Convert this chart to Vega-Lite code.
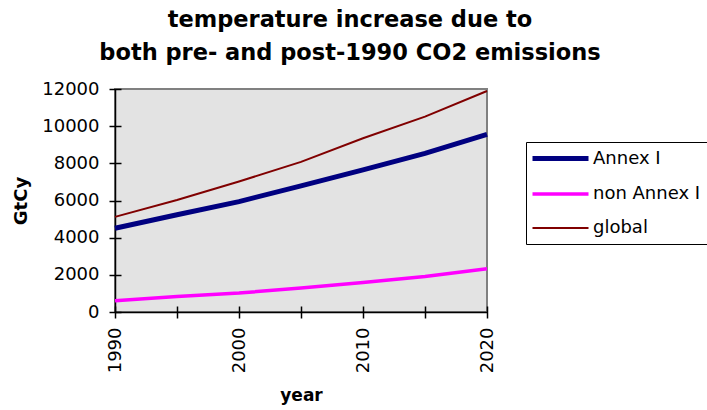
{
  "$schema": "https://vega.github.io/schema/vega-lite/v6.json",
  "width": 372,
  "height": 223,
  "autosize": "none",
  "padding": {"left": 115, "top": 89, "right": 220, "bottom": 98},
  "background": "white",
  "title": {
    "text": ["temperature increase due to", "both pre- and post-1990 CO2 emissions"],
    "font": "DejaVu Sans",
    "fontSize": 22.5,
    "fontWeight": "bold",
    "color": "black",
    "lineHeight": 33,
    "anchor": "middle",
    "frame": "group",
    "dx": 49,
    "offset": 16
  },
  "config": {
    "font": "DejaVu Sans",
    "view": {"fill": "#E3E3E3", "stroke": "#808080", "strokeWidth": 2},
    "axis": {
      "labelFont": "DejaVu Sans",
      "labelFontSize": 18,
      "labelColor": "black",
      "titleFont": "DejaVu Sans",
      "titleFontSize": 17,
      "titleFontWeight": "bold",
      "titleColor": "black",
      "domainColor": "black",
      "domainWidth": 1.5,
      "tickColor": "black",
      "tickWidth": 1.5,
      "grid": false
    },
    "legend": {
      "labelFont": "DejaVu Sans",
      "labelFontSize": 18,
      "labelColor": "black"
    }
  },
  "data": {
    "values": [
      {"year": 1990, "series": "Annex I", "value": 4510},
      {"year": 1995, "series": "Annex I", "value": 5230},
      {"year": 2000, "series": "Annex I", "value": 5940},
      {"year": 2005, "series": "Annex I", "value": 6790},
      {"year": 2010, "series": "Annex I", "value": 7650},
      {"year": 2015, "series": "Annex I", "value": 8540},
      {"year": 2020, "series": "Annex I", "value": 9560},
      {"year": 1990, "series": "non Annex I", "value": 610},
      {"year": 1995, "series": "non Annex I", "value": 840},
      {"year": 2000, "series": "non Annex I", "value": 1020},
      {"year": 2005, "series": "non Annex I", "value": 1290},
      {"year": 2010, "series": "non Annex I", "value": 1590},
      {"year": 2015, "series": "non Annex I", "value": 1910},
      {"year": 2020, "series": "non Annex I", "value": 2330},
      {"year": 1990, "series": "global", "value": 5120},
      {"year": 1995, "series": "global", "value": 6030},
      {"year": 2000, "series": "global", "value": 7020},
      {"year": 2005, "series": "global", "value": 8080},
      {"year": 2010, "series": "global", "value": 9350},
      {"year": 2015, "series": "global", "value": 10510},
      {"year": 2020, "series": "global", "value": 11890}
    ]
  },
  "resolve": {"axis": {"x": "independent", "y": "independent"}},
  "layer": [
    {
      "mark": {"type": "point", "opacity": 0},
      "encoding": {
        "x": {
          "field": "year",
          "type": "quantitative",
          "scale": {"domain": [1990, 2020], "nice": false, "zero": false},
          "axis": {
            "title": null,
            "labels": false,
            "ticks": false,
            "domain": true,
            "orient": "bottom"
          }
        },
        "y": {
          "field": "value",
          "type": "quantitative",
          "scale": {"domain": [0, 12000], "nice": false},
          "axis": {
            "title": null,
            "labels": false,
            "ticks": false,
            "domain": true,
            "orient": "left"
          }
        }
      }
    },
    {
      "mark": {"type": "line", "strokeCap": "butt"},
      "encoding": {
        "x": {
          "field": "year",
          "type": "quantitative",
          "axis": {
            "title": "year",
            "values": [1990, 1995, 2000, 2005, 2010, 2015, 2020],
            "format": "d",
            "labelExpr": "datum.value % 10 == 0 ? datum.label : ''",
            "labelAngle": -90,
            "labelAlign": "right",
            "labelBaseline": "middle",
            "labelPadding": 9,
            "titlePadding": 15,
            "domain": false,
            "tickSize": 12,
            "offset": -6,
            "orient": "bottom"
          }
        },
        "y": {
          "field": "value",
          "type": "quantitative",
          "axis": {
            "title": "GtCy",
            "titleFontSize": 18,
            "values": [0, 2000, 4000, 6000, 8000, 10000, 12000],
            "format": "d",
            "labelPadding": 10,
            "titlePadding": 11,
            "domain": false,
            "tickSize": 12,
            "offset": -6,
            "orient": "left"
          }
        },
        "color": {
          "field": "series",
          "type": "nominal",
          "scale": {"domain": ["Annex I", "non Annex I", "global"], "range": ["#000080", "#FF00FF", "#800000"]},
          "legend": {
            "title": null,
            "orient": "none",
            "legendX": 411,
            "legendY": 53,
            "symbolType": "M-4,0H4",
            "symbolSize": 196,
            "symbolOffset": 18,
            "labelOffset": 23,
            "rowPadding": 16,
            "padding": 7,
            "strokeColor": "black",
            "fillColor": "white"
          }
        },
        "strokeWidth": {
          "field": "series",
          "type": "nominal",
          "scale": {"domain": ["Annex I", "non Annex I", "global"], "range": [5, 2, 2]},
          "legend": {
            "title": null,
            "orient": "none",
            "legendX": 411,
            "legendY": 53,
            "symbolType": "M-4,0H4",
            "symbolSize": 196,
            "symbolOffset": 18,
            "labelOffset": 23,
            "rowPadding": 16,
            "padding": 7,
            "strokeColor": "black",
            "fillColor": "white"
          }
        }
      }
    }
  ]
}
